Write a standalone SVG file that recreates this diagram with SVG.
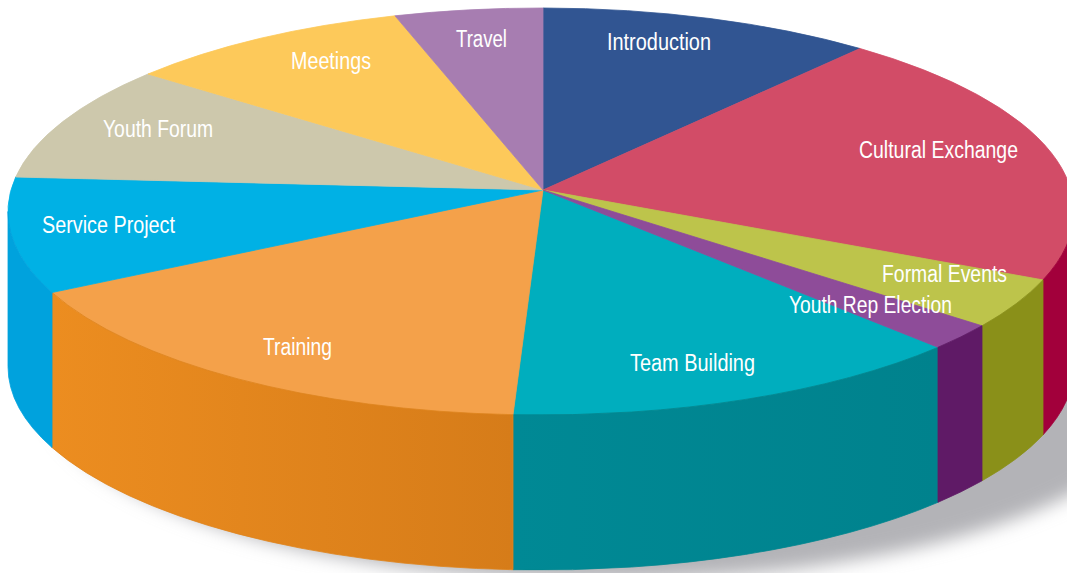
<svg xmlns="http://www.w3.org/2000/svg" width="1067" height="573" viewBox="0 0 1067 573">
<defs>
<style>
.lbl{font-family:"Liberation Sans",Arial,sans-serif;font-size:23px;fill:#ffffff}
.s{stroke-width:0.8;stroke-linejoin:round}
</style>
<filter id="blur" x="-20%" y="-20%" width="140%" height="140%"><feGaussianBlur stdDeviation="9"/></filter>
<linearGradient id="gOrange" x1="0" y1="0" x2="1" y2="0">
<stop offset="0" stop-color="#ec8d20"/><stop offset="1" stop-color="#d67c19"/>
</linearGradient>
<linearGradient id="gTeal" x1="0" y1="0" x2="1" y2="0">
<stop offset="0" stop-color="#008995"/><stop offset="1" stop-color="#00828d"/>
</linearGradient>
</defs>
<rect width="1067" height="573" fill="#ffffff"/>
<g id="shadow">
<ellipse cx="605" cy="388" rx="560" ry="192" fill="#b3b3b7" filter="url(#blur)"/>
</g>
<g id="connectors"></g>
<g id="introduction">
<path class="s" d="M543,190 L543,8 A533,203.5 0 0 1 860,48.5 Z" fill="#315592" stroke="#315592"/>
<text class="lbl" x="607" y="50" textLength="104" lengthAdjust="spacingAndGlyphs">Introduction</text>
</g>
<g id="cultural-exchange">
<path class="s" d="M543,190 L860,48.5 A533,203.5 0 0 1 1043,279.9 Z" fill="#d24c67" stroke="#d24c67"/>
<path class="s" d="M1043,279.9 A533,203.5 0 0 0 1074,211.5 L1074,366.5 A533,203.5 0 0 1 1043,434.9 Z" fill="#a2003b" stroke="#a2003b"/>
<text class="lbl" x="859" y="158" textLength="159" lengthAdjust="spacingAndGlyphs">Cultural Exchange</text>
</g>
<g id="team-building">
<path class="s" d="M543,190 L938,347.3 A533,203.5 0 0 1 513,414.7 Z" fill="#00aebe" stroke="#00aebe"/>
<path class="s" d="M513,414.7 A533,203.5 0 0 0 938,347.3 L938,502.3 A533,203.5 0 0 1 513,569.7 Z" fill="url(#gTeal)" stroke="#00868f"/>
<text class="lbl" x="630" y="371" textLength="125" lengthAdjust="spacingAndGlyphs">Team Building</text>
</g>
<g id="training">
<path class="s" d="M543,190 L513,414.7 A533,203.5 0 0 1 52,292.5 Z" fill="#f4a14a" stroke="#f4a14a"/>
<path class="s" d="M52,292.5 A533,203.5 0 0 0 513,414.7 L513,569.7 A533,203.5 0 0 1 52,447.5 Z" fill="url(#gOrange)" stroke="#e0841c"/>
<text class="lbl" x="263" y="355" textLength="69" lengthAdjust="spacingAndGlyphs">Training</text>
</g>
<g id="service-project">
<path class="s" d="M543,190 L52,292.5 A533,203.5 0 0 1 15.7,177 Z" fill="#00b1e5" stroke="#00b1e5"/>
<path class="s" d="M8,211.5 A533,203.5 0 0 0 52,292.5 L52,447.5 A533,203.5 0 0 1 8,366.5 Z" fill="#00a2dd" stroke="#00a2dd"/>
<text class="lbl" x="42" y="233" textLength="133" lengthAdjust="spacingAndGlyphs">Service Project</text>
</g>
<g id="youth-forum">
<path class="s" d="M543,190 L15.7,177 A533,203.5 0 0 1 148,74 Z" fill="#cdc8ac" stroke="#cdc8ac"/>
<text class="lbl" x="103" y="137" textLength="110" lengthAdjust="spacingAndGlyphs">Youth Forum</text>
</g>
<g id="meetings">
<path class="s" d="M543,190 L148,74 A533,203.5 0 0 1 395,15.8 Z" fill="#fdc95a" stroke="#fdc95a"/>
<text class="lbl" x="291" y="69" textLength="80" lengthAdjust="spacingAndGlyphs">Meetings</text>
</g>
<g id="travel">
<path class="s" d="M543,190 L395,15.8 A533,203.5 0 0 1 543,8 Z" fill="#a77db1" stroke="#a77db1"/>
<text class="lbl" x="456" y="47" textLength="51" lengthAdjust="spacingAndGlyphs">Travel</text>
</g>
<g id="formal-events">
<path class="s" d="M543,190 L1043,279.9 A533,203.5 0 0 1 982,325.8 Z" fill="#bdc44b" stroke="#bdc44b"/>
<path class="s" d="M982,325.8 A533,203.5 0 0 0 1043,279.9 L1043,434.9 A533,203.5 0 0 1 982,480.8 Z" fill="#8a9019" stroke="#8a9019"/>
<text class="lbl" x="882" y="282" textLength="125" lengthAdjust="spacingAndGlyphs">Formal Events</text>
</g>
<g id="youth-rep-election">
<path class="s" d="M543,190 L982,325.8 A533,203.5 0 0 1 938,347.3 Z" fill="#8e4c99" stroke="#8e4c99"/>
<path class="s" d="M938,347.3 A533,203.5 0 0 0 982,325.8 L982,480.8 A533,203.5 0 0 1 938,502.3 Z" fill="#5f1a66" stroke="#5f1a66"/>
<text class="lbl" x="789" y="313" textLength="163" lengthAdjust="spacingAndGlyphs">Youth Rep Election</text>
</g>
</svg>
